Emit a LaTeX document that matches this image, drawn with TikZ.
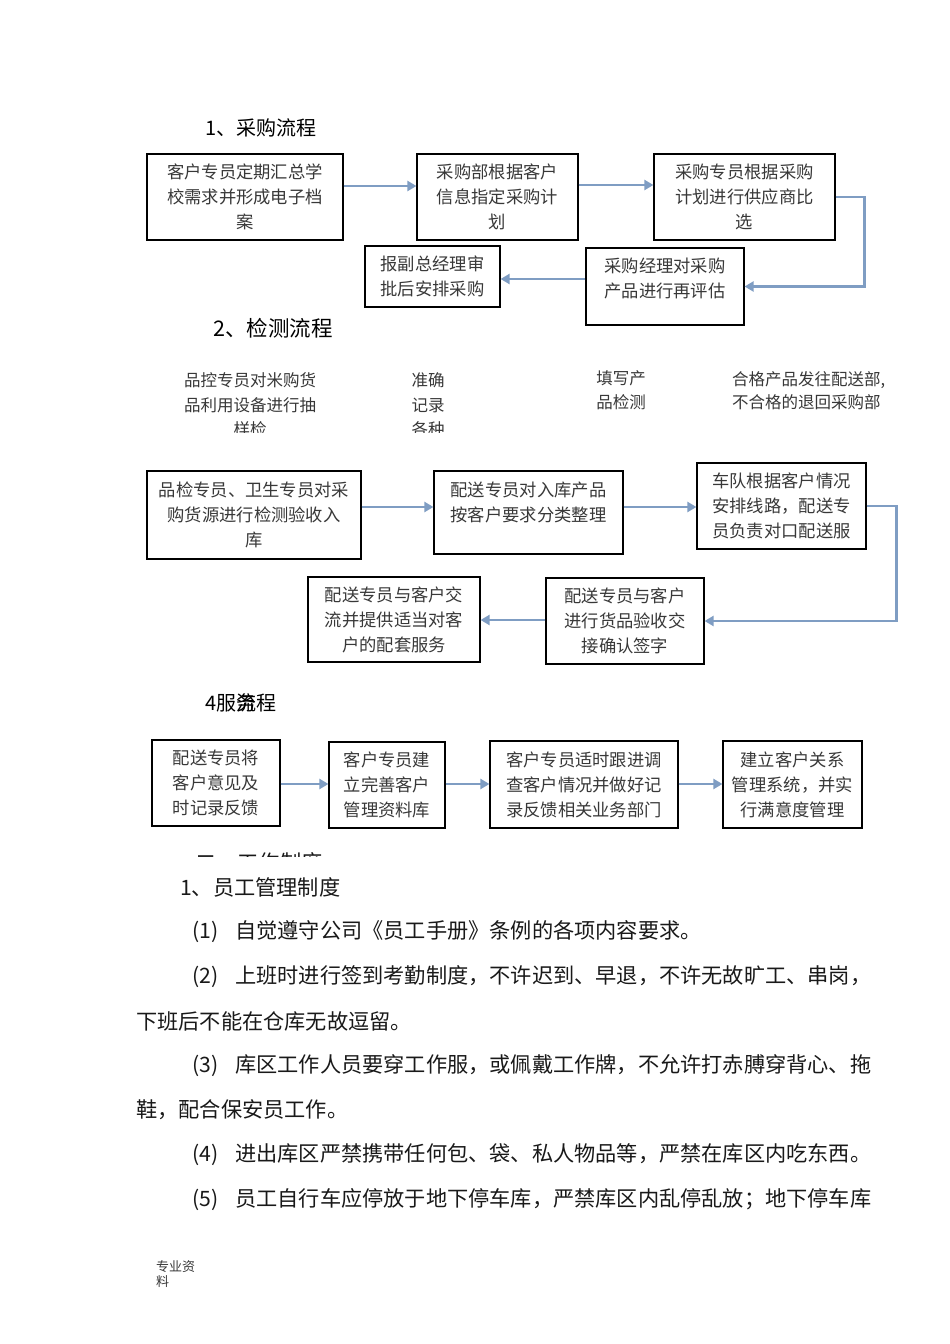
\documentclass[tikz,border=0pt]{standalone}
\usepackage{fontspec}
\setmainfont{Noto Sans CJK SC}
\usetikzlibrary{arrows.meta}
\definecolor{arrc}{HTML}{7F9DC3}
\definecolor{boxtxt}{HTML}{383838}
\tikzset{
  box/.style={draw=black, line width=1.2pt, inner sep=0pt},
  btxt/.style={text=boxtxt, align=center, inner sep=0pt, font=\fontsize{17.3}{25}\selectfont},
  rowtxt/.style={text=boxtxt, inner sep=0pt, font=\fontsize{16.5}{24.5}\selectfont},
  arr/.style={draw=arrc, line width=2.6pt, -{Triangle[length=9pt,width=10pt]}},
  ttl/.style={anchor=west, inner sep=0pt, font=\fontsize{20}{24}\selectfont},
  body/.style={anchor=west, inner sep=0pt, font=\fontsize{21.2}{26}\selectfont, text=black!90}
}
\begin{document}
\begin{tikzpicture}[x=1pt,y=-1pt]
\useasboundingbox[fill=white] (0,0) rectangle (950,1344);

% ---------- Section 1
\node[ttl] (s1) at (205,128) {1、采购流程};

\node[box, minimum width=196pt, minimum height=86pt] (b1) at (245,197) {};
\node[btxt] (t1) at (b1.center) {客户专员定期汇总学\\校需求并形成电子档\\案};
\node[box, minimum width=161pt, minimum height=86pt] (b2) at (497.5,197) {};
\node[btxt] (t2) at (b2.center) {采购部根据客户\\信息指定采购计\\划};
\node[box, minimum width=181pt, minimum height=86pt] (b3) at (744.5,197) {};
\node[btxt] (t3) at (b3.center) {采购专员根据采购\\计划进行供应商比\\选};
\node[box, minimum width=158pt, minimum height=77pt] (b4) at (665,286.5) {};
\node[btxt] (t4) at (665,278.5) {采购经理对采购\\产品进行再评估};
\node[box, minimum width=135pt, minimum height=61pt] (b5) at (432.5,276.5) {};
\node[btxt] (t5) at (b5.center) {报副总经理审\\批后安排采购};

\draw[arr] (b1.east |- 0,186) -- (b2.west |- 0,186);
\draw[arr] (b2.east |- 0,185) -- (b3.west |- 0,185);
\draw[arr] (b3.east) -- ++(29,0) |- (b4.east);
\draw[arr] (b4.west |- 0,279) -- (b5.east |- 0,279);

% ---------- Section 2
\node[ttl, font=\fontsize{21.5}{26}\selectfont] (s2) at (213,328) {2、检测流程};

\begin{scope}
\clip (100,362) rectangle (920,432);
\node[rowtxt, align=center] (r1) at (250,405) {品控专员对米购货\\品利用设备进行抽\\样检};
\node[rowtxt, align=center] (r2) at (428,405) {准确\\记录\\各种};
\node[rowtxt, align=center] (r3) at (621,390) {填写产\\品检测};
\node[rowtxt, align=left, anchor=west, font=\fontsize{16.5}{23}\selectfont] (r4) at (732,391) {合格产品发往配送部,\\不合格的退回采购部};
\end{scope}

\node[box, minimum width=214pt, minimum height=88pt] (c1) at (254,515) {};
\node[btxt] (u1) at (c1.center) {品检专员、卫生专员对采\\购货源进行检测验收入\\库};
\node[box, minimum width=189pt, minimum height=83pt] (c2) at (528.5,512.5) {};
\node[btxt] (u2) at (528.5,502.5) {配送专员对入库产品\\按客户要求分类整理};
\node[box, minimum width=169pt, minimum height=86pt] (c3) at (781.5,506) {};
\node[btxt] (u3) at (c3.center) {车队根据客户情况\\安排线路，配送专\\员负责对口配送服};
\node[box, minimum width=158pt, minimum height=86pt] (c4) at (625,621) {};
\node[btxt] (u4) at (c4.center) {配送专员与客户\\进行货品验收交\\接确认签字};
\node[box, minimum width=172pt, minimum height=85pt] (c5) at (394,619.5) {};
\node[btxt] (u5) at (c5.center) {配送专员与客户交\\流并提供适当对客\\户的配套服务};

\draw[arr] (c1.east |- 0,507) -- (c2.west |- 0,507);
\draw[arr] (c2.east |- 0,507) -- (c3.west |- 0,507);
\draw[arr] (c3.east) -- ++(30,0) |- (c4.east);
\draw[arr] (c4.west |- 0,620) -- (c5.east |- 0,620);

% ---------- Section 4
\node[ttl] (s4) at (205,703) {4服\rlap{务}流程};

\node[box, minimum width=128pt, minimum height=86pt] (d1) at (216,783) {};
\node[btxt] (v1) at (d1.center) {配送专员将\\客户意见及\\时记录反馈};
\node[box, minimum width=116pt, minimum height=86pt] (d2) at (387,785) {};
\node[btxt] (v2) at (d2.center) {客户专员建\\立完善客户\\管理资料库};
\node[box, minimum width=188pt, minimum height=87pt] (d3) at (584,784.5) {};
\node[btxt] (v3) at (d3.center) {客户专员适时跟进调\\查客户情况并做好记\\录反馈相关业务部门};
\node[box, minimum width=139pt, minimum height=87pt] (d4) at (792.5,784.5) {};
\node[btxt] (v4) at (d4.center) {建立客户关系\\管理系统，并实\\行满意度管理};

\draw[arr] (d1.east |- 0,784) -- (d2.west |- 0,784);
\draw[arr] (d2.east |- 0,784) -- (d3.west |- 0,784);
\draw[arr] (d3.east |- 0,784) -- (d4.west |- 0,784);

% ---------- cut-off heading
\begin{scope}
\clip (150,845) rectangle (420,856);
\node[body] (h2) at (195,862) {二、工作制度};
\end{scope}

% ---------- Body text
\node[body] (p0) at (180,887) {1、员工管理制度};
\node[body] (p1) at (192,932) {(1)\hspace{0.8em}自觉遵守公司《员工手册》条例的各项内容要求。};
\node[body] (p2) at (192,977) {(2)\hspace{0.8em}上班时进行签到考勤制度，不许迟到、早退，不许无故旷工、串岗，};
\node[body] (p2b) at (136,1021) {下班后不能在仓库无故逗留。};
\node[body] (p3) at (192,1066) {(3)\hspace{0.8em}库区工作人员要穿工作服，或佩戴工作牌，不允许打赤膊穿背心、拖};
\node[body] (p3b) at (136,1110) {鞋，配合保安员工作。};
\node[body] (p4) at (192,1155) {(4)\hspace{0.8em}进出库区严禁携带任何包、袋、私人物品等，严禁在库区内吃东西。};
\node[body] (p5) at (192,1200) {(5)\hspace{0.8em}员工自行车应停放于地下停车库，严禁库区内乱停乱放；地下停车库};

% ---------- Footer
\node[anchor=north west, align=left, inner sep=0pt, text=boxtxt, font=\fontsize{13}{15}\selectfont] (ft) at (156,1260) {专业资\\料};
\end{tikzpicture}
\end{document}
